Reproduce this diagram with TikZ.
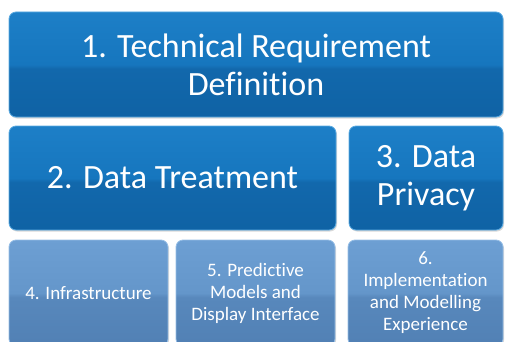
\documentclass[tikz,border=0pt]{standalone}
\usepackage{fontspec}
\setmainfont[Ligatures=NoCommon]{Carlito}
\usetikzlibrary{shadows}
\definecolor{darkTop}{RGB}{36,136,208}
\definecolor{darkMidA}{RGB}{22,118,190}
\definecolor{darkMidB}{RGB}{18,104,172}
\definecolor{darkBot}{RGB}{12,92,156}
\definecolor{darkEdge}{RGB}{90,170,225}
\definecolor{lightTop}{RGB}{118,168,220}
\definecolor{lightMidA}{RGB}{100,150,202}
\definecolor{lightMidB}{RGB}{88,136,188}
\definecolor{lightBot}{RGB}{74,120,172}
\definecolor{lightEdge}{RGB}{150,190,230}
\pgfdeclareverticalshading{glossdark}{100bp}{color(0bp)=(darkBot); color(48bp)=(darkMidB); color(50bp)=(darkMidA); color(100bp)=(darkTop)}
\pgfdeclareverticalshading{glosslight}{100bp}{color(0bp)=(lightBot); color(48bp)=(lightMidB); color(50bp)=(lightMidA); color(100bp)=(lightTop)}
\begin{document}
\begin{tikzpicture}[x=1pt,y=-1pt,
  box/.style={rounded corners=7pt, draw=#1Edge, line width=0.8pt,
    shading=gloss#1, text=white, align=center,
    inner sep=0pt,
    drop shadow={shadow xshift=1pt, shadow yshift=-1.5pt, opacity=0.3}},
  bigtext/.style={font=\fontsize{34}{38}\selectfont},
  smalltext/.style={font=\fontsize{19}{22}\selectfont}]
\useasboundingbox (0,0) rectangle (505,342);
\clip (0,0) rectangle (505,342);
\node[box=dark, bigtext, minimum width=494pt, minimum height=105pt] (t1) at (256,64.5)
  {1. Technical Requirement\\Definition};
\node[box=dark, bigtext, minimum width=327pt, minimum height=104pt] (t2) at (172.5,178)
  {2. Data Treatment};
\node[box=dark, bigtext, minimum width=154pt, minimum height=104pt] (t3) at (426,178)
  {3. Data\\Privacy};
\node[box=light, smalltext, minimum width=159pt, minimum height=106pt] (t4) at (88.5,293)
  {4. Infrastructure};
\node[box=light, smalltext, minimum width=159pt, minimum height=106pt] (t5) at (255.5,293)
  {5. Predictive\\Models and\\Display Interface};
\node[box=light, smalltext, minimum width=155pt, minimum height=106pt] (t6) at (425.5,293)
  {6.\\Implementation\\and Modelling\\Experience};
\end{tikzpicture}
\end{document}
